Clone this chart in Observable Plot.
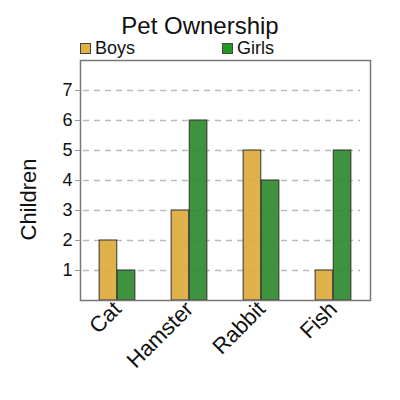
<!DOCTYPE html>
<html>
<head>
<meta charset="utf-8">
<script src="https://cdn.jsdelivr.net/npm/d3@7"></script>
<script src="https://cdn.jsdelivr.net/npm/@observablehq/plot@0.6"></script>
<style>
  body { margin: 0; background: #fff; font-family: "Liberation Sans", Arial, sans-serif; }
  #wrap { position: relative; width: 400px; height: 400px; }
  #title { position: absolute; left: 0; width: 400px; top: 14px; line-height: 1; text-align: center; font-size: 24px; color: #111; }
  .leg { position: absolute; top: 39px; line-height: 1; font-size: 18px; color: #111; display: flex; align-items: center; }
  .sw { width: 9px; height: 9px; border: 1px solid #444; margin-right: 4px; }
  svg { position: absolute; left: 0; top: 0; }
</style>
</head>
<body>
<div id="wrap"><div id="title">Pet Ownership</div></div>
<script>
const pets = ["Cat", "Hamster", "Rabbit", "Fish"];
const boys = [2, 3, 5, 1];
const girls = [1, 6, 4, 5];
const seriesNames = ["Boys", "Girls"];
const barColors = ["#dcaa3c", "#2f8a2f"];
const legendColors = ["#e0b040", "#229922"];
const yTicks = [1, 2, 3, 4, 5, 6, 7];
const yLabel = "Children";

const W = 400, H = 400, ml = 80, mr = 30, mt = 60, mb = 100;
const bw = (W - ml - mr) / pets.length;
const half = bw / 4;

const boysData = pets.map((p, i) => ({pet: p, v: boys[i]}));
const girlsData = pets.map((p, i) => ({pet: p, v: girls[i]}));

const chart = Plot.plot({
  width: W, height: H,
  marginLeft: ml, marginRight: mr, marginTop: mt, marginBottom: mb,
  style: {fontFamily: "Liberation Sans, Arial, sans-serif", color: "#111", background: "transparent"},
  x: {domain: pets, padding: 0, axis: null},
  y: {domain: [0, 8], axis: null},
  marks: [
    Plot.ruleY(yTicks, {stroke: "#bbb", strokeWidth: 1.5, strokeDasharray: "6,5", insetLeft: 3, insetRight: 10}),
    Plot.barY(boysData, {x: "pet", y: "v", fill: barColors[0], fillOpacity: 0.92, stroke: "#333", strokeWidth: 1, insetLeft: half, insetRight: 2 * half}),
    Plot.barY(girlsData, {x: "pet", y: "v", fill: barColors[1], fillOpacity: 0.92, stroke: "#333", strokeWidth: 1, insetLeft: 2 * half, insetRight: half}),
    Plot.frame({stroke: "#777", strokeWidth: 1.5}),
    Plot.axisY({ticks: yTicks, tickSize: 5, tickPadding: 3, fontSize: 18, stroke: "#999", label: null}),
    Plot.axisX({tickRotate: -45, tickSize: 0, tickPadding: 5, fontSize: 22, label: null}),
    Plot.text([yLabel], {frameAnchor: "left", dx: -52, dy: 60, rotate: -90, fontSize: 22, fill: "#111"})
  ]
});
const wrap = document.getElementById("wrap");
wrap.appendChild(chart);

const legX = [80, 222];
seriesNames.forEach((name, i) => {
  const d = document.createElement("div");
  d.className = "leg";
  d.style.left = legX[i] + "px";
  const sw = document.createElement("span");
  sw.className = "sw";
  sw.style.background = legendColors[i];
  d.appendChild(sw);
  d.appendChild(document.createTextNode(name));
  wrap.appendChild(d);
});
</script>
</body>
</html>
